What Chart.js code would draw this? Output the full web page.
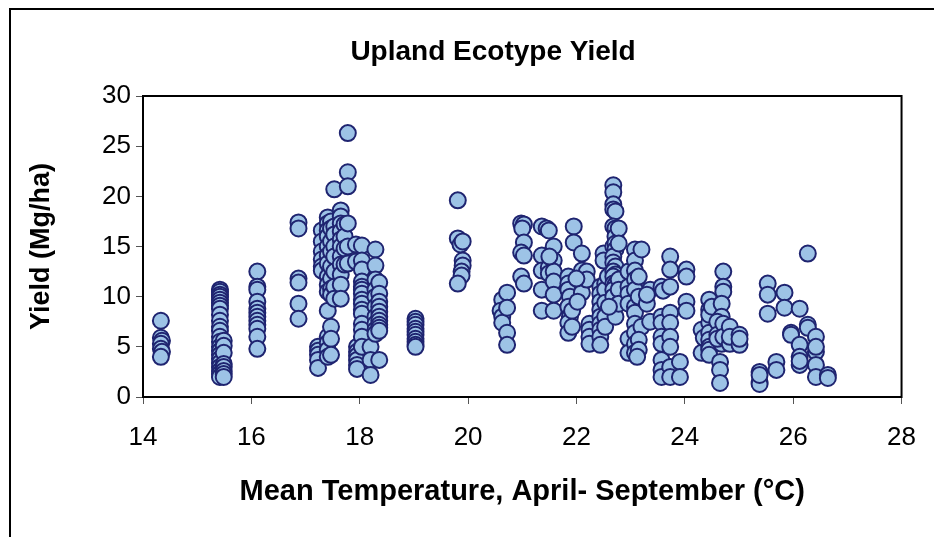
<!DOCTYPE html>
<html><head><meta charset="utf-8">
<script src="https://cdn.jsdelivr.net/npm/chart.js@4"></script>
<style>html,body{margin:0;padding:0;background:#fff}canvas{display:block}</style>
</head><body>
<canvas id="c" width="934" height="537"></canvas>
<script>
const chartTitle = 'Upland Ecotype Yield';
const xAxisTitle = 'Mean Temperature, April- September (°C)';
const yAxisTitle = 'Yield (Mg/ha)';
const xTicks = [14, 16, 18, 20, 22, 24, 26, 28];
const yTicks = [0, 5, 10, 15, 20, 25, 30];

// Mean temperature (°C) of each site-year
const temperature = [
  14.33,14.33,14.35,14.33,14.33,14.35,14.33,
  15.42,15.42,15.42,15.42,15.42,15.42,15.42,15.42,15.42,15.42,15.42,15.42,15.42,15.42,15.42,15.42,15.42,15.42,15.42,15.42,15.42,15.42,15.42,
  15.49,15.49,15.49,15.49,15.49,15.49,15.49,15.49,
  16.11,16.11,16.11,16.11,16.11,16.11,16.11,16.11,16.11,16.11,16.11,16.11,
  16.87,16.87,16.87,16.87,16.87,16.87,
  17.23,17.23,17.23,17.23,17.23,
  17.30,17.30,17.30,17.30,17.30,17.30,
  17.41,17.41,17.41,17.41,17.41,17.41,17.41,17.41,17.41,17.41,17.41,17.41,17.41,17.41,17.41,
  17.47,17.47,17.47,17.47,17.47,17.47,17.47,17.47,17.47,17.47,17.47,
  17.53,17.53,17.53,17.53,17.53,17.53,17.53,17.53,
  17.65,17.65,17.65,17.65,17.65,17.65,17.65,17.65,17.65,17.65,17.65,
  17.72,17.72,17.72,17.72,
  17.78,17.78,17.78,17.78,17.78,17.78,
  17.93,17.93,
  17.95,17.95,17.95,17.95,17.95,17.95,
  18.04,18.04,18.04,18.04,18.04,18.04,18.04,18.04,18.04,18.04,18.04,18.04,18.04,18.04,18.04,
  18.20,18.20,18.20,
  18.29,18.29,18.29,18.29,18.29,18.29,18.29,18.29,18.29,18.29,
  18.36,18.36,18.36,18.36,18.36,18.36,18.36,18.36,18.36,18.36,18.36,
  19.03,19.03,19.03,19.03,19.03,19.03,19.03,19.03,19.03,19.03,
  19.81,19.81,19.86,19.90,19.90,19.90,19.88,19.88,19.81,
  20.63,20.60,20.63,20.63,20.72,20.72,20.72,20.72,
  20.98,21.03,21.00,21.03,20.98,21.03,20.98,21.03,
  21.36,21.36,21.36,21.36,21.36,21.45,21.49,21.49,21.49,21.58,21.58,21.58,21.58,21.58,21.58,21.50,
  21.95,21.95,21.85,21.85,21.85,21.88,21.85,21.88,21.85,21.85,21.92,21.92,22.10,22.10,22.10,22.10,22.19,22.19,22.00,22.02,
  22.24,22.24,22.24,22.24,
  22.44,22.44,22.44,22.44,22.44,22.44,22.44,22.44,22.44,22.50,22.50,22.53,22.53,22.53,22.53,22.53,22.58,
  22.68,22.68,22.68,22.68,22.72,22.68,22.72,22.72,22.68,22.72,22.72,22.68,22.68,22.72,22.68,22.72,22.68,22.68,22.72,22.68,22.68,22.68,22.72,22.78,22.78,22.78,22.78,22.78,22.60,
  22.96,22.96,22.96,22.96,22.96,22.96,
  23.08,23.08,23.08,23.08,23.08,23.08,23.08,23.08,23.08,23.08,23.08,
  23.20,23.15,23.15,23.20,23.15,23.15,23.12,
  23.36,23.36,23.30,23.30,
  23.57,23.57,23.57,23.57,23.57,23.57,23.57,23.57,23.60,
  23.73,23.73,23.73,23.73,23.73,23.73,23.73,23.73,23.73,
  23.91,23.91,
  24.03,24.03,24.03,24.03,
  24.31,24.31,24.35,
  24.45,24.45,24.45,24.45,24.45,24.45,24.45,24.45,24.45,24.50,
  24.71,24.71,24.71,24.68,24.68,24.71,24.68,24.65,24.65,24.65,24.60,24.60,24.60,24.71,24.71,
  24.83,24.83,24.83,
  25.01,25.01,25.01,
  25.38,25.38,25.38,25.38,
  25.53,25.53,25.53,
  25.69,25.69,
  25.84,25.84,
  25.96,25.96,
  26.12,26.12,26.12,26.12,26.12,
  26.27,26.27,26.27,
  26.42,26.42,26.42,26.42,26.42,
  26.64,26.64
];

// Yield (Mg/ha), same order as temperature
const yieldMgHa = [
  7.6,5.9,5.6,5.3,4.8,4.5,4.0,
  10.7,10.5,10.2,10.0,9.7,9.4,9.1,8.8,8.2,7.6,7.0,6.6,6.0,5.5,5.0,4.6,4.2,3.8,3.4,3.0,2.6,2.3,2.0,
  5.6,5.1,4.4,3.3,3.0,2.6,2.3,2.0,
  12.5,11.0,10.7,9.5,8.8,8.4,8.0,7.6,7.2,6.8,6.0,4.8,
  17.4,16.8,11.8,11.4,9.3,7.8,
  5.0,4.6,4.2,3.7,2.9,
  16.6,15.5,14.5,13.7,13.0,12.6,
  17.9,17.3,16.6,16.0,15.0,14.1,13.3,12.0,11.2,10.5,8.6,6.0,5.4,4.7,4.0,
  17.5,16.8,15.5,14.5,13.0,11.8,10.8,10.2,7.0,5.8,4.2,
  20.7,17.0,16.2,15.0,14.0,12.5,11.0,9.8,
  18.6,18.0,17.3,16.5,15.7,15.0,14.0,13.2,12.2,11.2,9.8,
  17.2,16.0,14.8,13.2,
  26.3,22.4,21.0,17.3,15.0,13.3,
  15.2,13.5,
  5.0,4.5,4.1,3.7,3.2,2.8,
  15.1,13.6,12.7,11.5,11.0,10.7,10.3,9.7,9.3,8.7,8.3,7.3,6.7,6.0,5.0,
  5.0,3.7,2.2,
  14.7,13.1,11.7,10.7,10.0,9.0,8.0,7.3,6.7,6.3,
  11.4,10.3,9.5,9.0,8.5,8.0,7.6,7.2,6.9,6.6,3.7,
  7.8,7.5,7.2,6.8,6.5,6.2,5.8,5.5,5.2,5.0,
  19.6,15.8,15.2,15.5,13.6,13.1,12.5,12.1,11.3,
  9.7,8.6,8.0,7.4,10.4,8.9,6.4,5.2,
  17.3,17.2,16.8,15.4,14.4,14.1,12.0,11.3,
  17.0,14.1,12.6,10.7,8.6,16.8,16.6,12.9,12.3,15.0,13.6,12.5,11.5,10.2,8.6,14.0,
  17.0,15.4,12.0,11.3,10.7,10.0,9.0,8.0,7.4,6.4,8.6,7.0,14.3,12.6,11.3,10.4,12.5,11.7,11.8,9.5,
  7.3,6.7,6.0,5.3,
  11.0,10.3,9.5,8.7,8.0,7.3,6.7,6.0,5.2,14.3,13.6,11.3,10.7,9.4,8.0,7.0,12.0,
  21.1,20.4,19.2,18.7,18.5,17.0,16.8,16.0,15.0,15.3,14.7,14.0,13.4,13.0,12.5,12.2,12.0,11.3,11.2,10.7,10.0,8.9,8.0,16.8,15.3,11.7,10.7,9.3,9.0,
  12.5,11.0,10.3,9.3,5.8,4.4,
  14.7,13.6,12.6,11.7,10.7,9.0,8.4,7.3,6.4,5.3,4.4,
  14.7,12.0,10.0,7.0,5.7,4.7,4.0,
  10.7,7.5,9.3,10.2,
  11.0,8.0,7.4,6.0,5.3,3.7,2.7,2.0,10.6,
  14.0,12.7,11.0,8.4,7.4,6.0,5.0,3.0,2.0,
  3.5,2.0,
  12.7,12.0,9.5,8.6,
  6.7,4.4,5.9,
  9.7,8.7,7.4,6.4,5.7,5.0,4.7,4.2,8.2,9.0,
  12.5,11.0,10.5,9.3,8.0,6.7,5.3,3.5,2.7,1.4,7.5,6.2,5.8,7.3,6.0,
  7.0,5.3,6.0,
  6.2,5.2,5.8,
  2.5,1.5,1.3,2.2,
  11.3,10.2,8.3,
  3.5,2.7,
  10.4,8.9,
  6.4,6.2,
  8.8,5.2,4.0,3.2,3.6,
  14.3,7.2,6.9,
  6.0,4.5,3.2,2.0,5.0,
  2.2,1.9
];

const points = temperature.map((t, i) => ({ x: t, y: yieldMgHa[i] }));

const FONT = "'Liberation Sans', Arial, Helvetica, sans-serif";

const framePlugin = {
  id: 'frame',
  beforeDraw(chart) {
    const ctx = chart.ctx;
    ctx.save();
    ctx.fillStyle = '#fff';
    ctx.fillRect(0, 0, chart.width, chart.height);
    ctx.strokeStyle = '#000';
    ctx.lineWidth = 2;
    ctx.beginPath();
    ctx.moveTo(10, chart.height);
    ctx.lineTo(10, 9);
    ctx.lineTo(chart.width, 9);
    ctx.stroke();
    // chart title
    ctx.fillStyle = '#000';
    ctx.font = 'bold 28px ' + FONT;
    ctx.textAlign = 'center';
    ctx.textBaseline = 'middle';
    ctx.fillText(chartTitle, 493, 52);
    ctx.restore();
  },
  beforeDatasetsDraw(chart) {
    const { left, top, right, bottom } = chart.chartArea;
    const ctx = chart.ctx;
    ctx.save();
    ctx.strokeStyle = '#000';
    ctx.lineWidth = 2;
    ctx.strokeRect(left, top, right - left, bottom - top);
    ctx.restore();
  }
};

new Chart(document.getElementById('c'), {
  type: 'scatter',
  data: {
    datasets: [{
      label: 'Upland',
      data: points,
      backgroundColor: '#9DC3E6',
      borderColor: '#1F2470',
      borderWidth: 2,
      pointRadius: 8,
      pointHoverRadius: 8
    }]
  },
  options: {
    responsive: false,
    animation: false,
    devicePixelRatio: 1,
    layout: { padding: { left: 0, right: 30, top: 96, bottom: 0 } },
    plugins: {
      legend: { display: false },
      tooltip: { enabled: false },
      title: { display: false }
    },
    scales: {
      x: {
        type: 'linear',
        min: xTicks[0],
        max: xTicks[xTicks.length - 1],
        afterBuildTicks(scale) { scale.ticks = xTicks.map(v => ({ value: v })); },
        afterFit(scale) { scale.height = 140; },
        border: { display: false },
        grid: { display: true, drawOnChartArea: false, drawTicks: true, tickLength: 7, color: '#555' },
        ticks: { color: '#000', padding: 18, font: { family: FONT, size: 26 } },
        title: {
          display: true, text: xAxisTitle, color: '#000',
          font: { family: FONT, size: 29, weight: 'bold' },
          padding: { top: 0, bottom: 27.6 }
        }
      },
      y: {
        type: 'linear',
        min: yTicks[0],
        max: yTicks[yTicks.length - 1],
        afterBuildTicks(scale) { scale.ticks = yTicks.map(v => ({ value: v })); },
        afterFit(scale) { scale.width = 143; },
        border: { display: false },
        grid: { display: true, drawOnChartArea: false, drawTicks: true, tickLength: 7, color: '#555' },
        ticks: { color: '#000', padding: 5, font: { family: FONT, size: 26 } },
        title: {
          display: true, text: yAxisTitle, color: '#000',
          font: { family: FONT, size: 27, weight: 'bold' },
          padding: { top: 25.8, bottom: 0 }
        }
      }
    }
  },
  plugins: [framePlugin]
});
</script>
</body></html>
